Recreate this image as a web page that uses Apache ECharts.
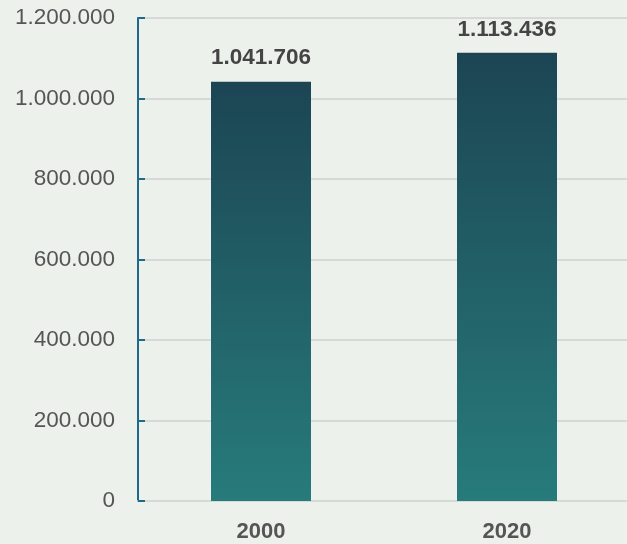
<!DOCTYPE html>
<html><head><meta charset="utf-8">
<script src="https://cdn.jsdelivr.net/npm/echarts@6/dist/echarts.min.js"></script>
<style>html,body{margin:0;padding:0;background:#ecf1ec;}#c{width:627px;height:544px;}</style>
</head><body><div id="c"></div>
<script>
const categories = ['2000', '2020'];
const values = [1041706, 1113436];
const yTicks = [0, 200000, 400000, 600000, 800000, 1000000, 1200000];

function fmt(v) { return String(v).replace(/\B(?=(\d{3})+(?!\d))/g, '.'); }

const FF = '"Liberation Sans", Arial, Helvetica, sans-serif';
const chart = echarts.init(document.getElementById('c'));
chart.setOption({
  backgroundColor: '#ecf1ec',
  animation: false,
  grid: { left: 138, width: 492, top: 18, height: 483, outerBoundsMode: 'none', containLabel: false },
  xAxis: {
    type: 'category', data: categories,
    axisLine: { lineStyle: { color: '#d6d9d6', width: 2 } },
    axisTick: { show: false },
    axisLabel: { color: '#555', fontWeight: 'bold', fontSize: 22, margin: 20, fontFamily: FF }
  },
  yAxis: {
    type: 'value', min: 0, max: 1200000, interval: 200000,
    axisLine: { show: true, lineStyle: { color: '#1f6a8c', width: 2 } },
    axisTick: { show: true, inside: true, length: 7, lineStyle: { color: '#1f6a8c', width: 2 } },
    splitLine: { lineStyle: { color: '#d6d9d6', width: 2 } },
    axisLabel: { color: '#555', fontSize: 22.5, margin: 23, fontFamily: FF, formatter: v => fmt(v) }
  },
  series: [{
    type: 'bar', data: values, barWidth: 100,
    itemStyle: {
      color: new echarts.graphic.LinearGradient(0, 0, 0, 1, [
        { offset: 0, color: '#1c4554' },
        { offset: 1, color: '#277b7b' }
      ])
    },
    label: { show: true, position: 'top', distance: 12, color: '#444', fontWeight: 'bold', fontSize: 22.5, fontFamily: FF, formatter: p => fmt(p.value) }
  }]
});
</script></body></html>
